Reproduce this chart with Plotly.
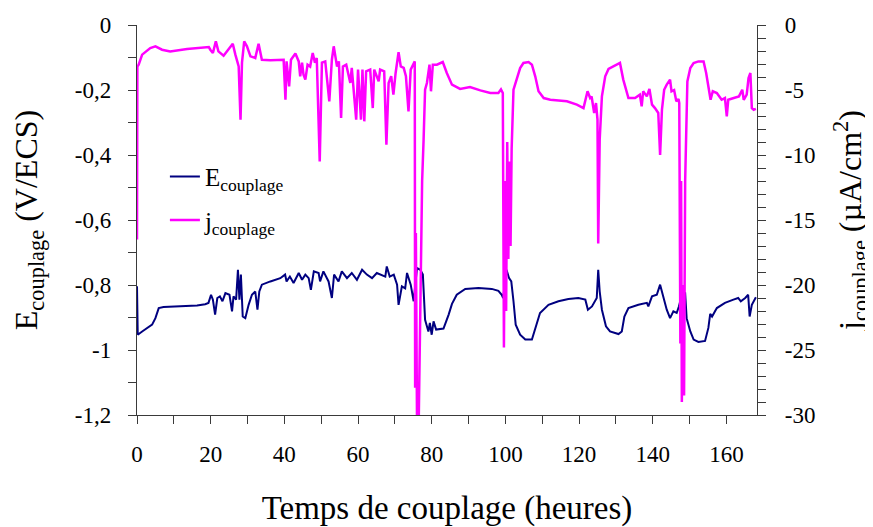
import plotly.graph_objects as go

# ---------------- data ----------------
# Coupling potential E (V/ECS) versus coupling time (hours)
t_E = [0, 0.2, 1.4, 2.7, 4.1, 5.0, 5.9, 7.2, 10.9, 16.3,
       18.5, 19.4, 20.1, 20.6, 21.2, 21.8, 22.5, 23.2, 24.0, 25.1,
       25.8, 26.2, 26.9, 27.4, 27.8, 28.2, 28.7, 29.4, 30.3, 31.2,
       32.1, 32.7, 33.2, 33.9, 36.2, 38.9, 40.2, 40.6, 41.5, 42.5,
       43.9, 44.8, 45.7, 46.6, 47.2, 48.0, 49.3, 49.7, 50.6, 52.0,
       52.9, 53.5, 54.7, 55.6, 57.0, 58.3, 59.7, 61.1, 62.4, 63.8,
       65.1, 67.4, 67.8, 68.6, 69.7, 70.6, 71.0, 71.9, 72.8, 73.3,
       74.3, 75.1, 76.0, 76.9, 77.6, 78.2, 79.1, 79.5, 80.0, 80.5,
       81.2, 83.2, 84.6, 85.5, 86.8, 89.1, 92.7, 96.3, 98.1, 99.0,
       99.4, 100.3, 101.0, 101.6, 102.2, 102.8, 104.0, 105.4, 107.2, 108.1,
       109.4, 111.7, 114.4, 117.1, 119.8, 121.7, 122.4, 123.5, 124.1, 124.8,
       125.2, 125.6, 126.2, 127.3, 128.4, 130.7, 131.6, 132.3, 133.4, 136.1,
       138.4, 138.8, 139.8, 141.1, 142.0, 142.6, 143.8, 144.7, 145.6, 146.5,
       147.1, 148.0, 148.8, 149.2, 150.2, 151.1, 152.4, 154.2, 155.1, 155.6,
       156.1, 157.4, 159.6, 161.9, 163.2, 163.9, 165.1, 165.9, 166.3, 166.9,
       168.0]
E_couplage = [-0.804, -0.953, -0.943, -0.932, -0.922, -0.902, -0.871, -0.868, -0.866, -0.863,
              -0.859, -0.855, -0.830, -0.845, -0.891, -0.840, -0.835, -0.850, -0.825, -0.830,
              -0.881, -0.835, -0.845, -0.753, -0.845, -0.768, -0.897, -0.902, -0.861, -0.830,
              -0.820, -0.876, -0.820, -0.799, -0.789, -0.779, -0.768, -0.789, -0.774, -0.794,
              -0.763, -0.784, -0.768, -0.779, -0.815, -0.758, -0.763, -0.789, -0.758, -0.789,
              -0.840, -0.768, -0.789, -0.758, -0.779, -0.763, -0.784, -0.753, -0.768, -0.779,
              -0.763, -0.774, -0.743, -0.774, -0.768, -0.799, -0.861, -0.804, -0.810, -0.763,
              -0.799, -0.850, -0.748, -0.753, -0.768, -0.907, -0.943, -0.917, -0.953, -0.912,
              -0.937, -0.934, -0.891, -0.858, -0.830, -0.812, -0.809, -0.812, -0.818, -0.830,
              -0.840, -0.753, -0.779, -0.789, -0.850, -0.922, -0.953, -0.968, -0.968, -0.937,
              -0.886, -0.861, -0.850, -0.843, -0.840, -0.845, -0.876, -0.866, -0.855, -0.840,
              -0.753, -0.820, -0.876, -0.927, -0.943, -0.951, -0.943, -0.897, -0.871, -0.861,
              -0.855, -0.866, -0.835, -0.830, -0.799, -0.825, -0.876, -0.902, -0.881, -0.886,
              -0.866, -0.825, -0.825, -0.902, -0.943, -0.968, -0.975, -0.972, -0.932, -0.889,
              -0.897, -0.871, -0.855, -0.845, -0.840, -0.850, -0.840, -0.830, -0.897, -0.861,
              -0.838]

# Coupling current density j (uA/cm2) versus coupling time (hours)
t_j = [0, 0.1, 0.45, 1.4, 3.6, 5.0, 6.8, 9.0, 13.6, 19.5,
       19.9, 20.6, 21.4, 22.1, 23.5, 26.0, 26.7, 27.6, 28.1, 28.5,
       29.1, 29.85, 30.8, 32.1, 33.0, 33.9, 36.2, 39.8, 40.3, 40.6,
       41.3, 41.8, 43.0, 43.9, 44.3, 44.8, 45.2, 45.7, 46.3, 47.0,
       47.7, 48.3, 48.8, 49.6, 50.2, 51.1, 52.2, 52.9, 53.4, 54.3,
       54.8, 55.4, 55.9, 56.8, 57.9, 58.3, 59.5, 60.0, 60.8, 61.2,
       61.7, 62.2, 63.3, 64.0, 64.4, 65.6, 66.0, 67.1, 67.7, 68.3,
       69.0, 69.6, 70.2, 71.0, 71.6, 72.4, 73.0, 73.7, 74.3, 75.1,
       75.4, 75.5, 75.7, 76.0, 76.5, 77.0, 77.4, 77.8, 78.2, 78.7,
       79.4, 79.8, 80.3, 81.4, 83.0, 84.1, 85.5, 87.7, 90.4, 93.2,
       95.9, 98.1, 98.8, 99.3, 99.6, 99.9, 100.2, 100.5, 100.8, 101.1,
       101.4, 101.7, 102.2, 102.6, 104.0, 104.9, 106.3, 107.2, 108.1, 109.0,
       110.4, 112.2, 114.0, 116.7, 119.4, 121.2, 122.3, 123.0, 123.4, 124.1,
       124.6, 125.0, 125.2, 125.6, 126.2, 127.1, 128.0, 129.4, 131.1, 132.0,
       133.4, 135.2, 136.5, 137.0, 137.4, 138.4, 139.1, 139.8, 140.6, 141.5,
       142.0, 142.5, 143.1, 143.8, 144.7, 145.1, 145.8, 146.4, 147.0, 147.2,
       147.5, 147.7, 147.9, 148.2, 148.5, 148.8, 149.1, 149.4, 150.2, 151.1,
       152.4, 153.8, 154.5, 155.1, 155.7, 156.3, 157.4, 158.7, 159.6, 160.1,
       160.5, 162.0, 163.4, 164.3, 164.7, 165.5, 166.0, 166.5, 166.9, 167.4,
       168.0]
j_couplage = [-16.5, -3.2, -3.05, -2.28, -1.77, -1.64, -1.90, -2.03, -1.85, -1.70,
              -1.90, -2.15, -1.26, -2.03, -2.36, -1.44, -2.28, -3.18, -7.28, -2.90,
              -1.26, -1.64, -2.41, -2.54, -1.44, -2.67, -2.72, -2.67, -5.75, -2.80,
              -4.72, -2.67, -2.20, -2.80, -3.95, -2.90, -3.82, -4.20, -3.05, -3.20,
              -2.15, -2.90, -2.54, -10.5, -2.90, -2.80, -5.87, -2.67, -1.64, -3.20,
              -2.80, -7.15, -3.20, -3.05, -4.46, -3.30, -7.28, -3.43, -7.28, -3.43,
              -7.41, -3.56, -3.43, -6.39, -3.43, -4.34, -3.43, -3.56, -9.2, -4.46,
              -3.94, -5.36, -3.69, -2.10, -3.18, -3.30, -3.94, -6.64, -3.43, -2.92,
              -2.80, -27.9, -16.0, -30.0, -30.0, -20.0, -12.0, -8.8, -4.98, -4.46,
              -3.05, -5.10, -3.05, -3.05, -2.85, -3.69, -4.59, -4.92, -4.77, -5.03,
              -5.23, -5.23, -4.95, -5.23, -24.8, -12.0, -22.0, -9.0, -18.0, -10.5,
              -17.0, -9.5, -4.98, -4.60, -3.31, -2.92, -2.85, -3.05, -3.95, -5.10,
              -5.62, -5.75, -5.80, -5.87, -6.13, -6.39, -5.10, -5.62, -5.50, -6.77,
              -6.00, -7.28, -16.8, -8.8, -5.49, -3.95, -3.38, -3.18, -2.92, -4.20,
              -5.62, -5.62, -5.36, -6.26, -5.10, -5.49, -4.92, -6.13, -6.39, -6.77,
              -10.0, -6.50, -4.98, -4.59, -4.20, -5.10, -5.00, -5.87, -5.70, -6.00,
              -24.5, -12.0, -29.0, -20.0, -28.5, -12.0, -6.50, -4.34, -3.31, -2.92,
              -2.80, -2.80, -3.69, -4.72, -5.75, -5.10, -5.23, -5.75, -5.62, -7.03,
              -5.75, -5.62, -5.49, -4.98, -5.75, -5.36, -4.08, -3.69, -6.39, -6.52,
              -6.45]

assert len(t_E) == len(E_couplage)
assert len(t_j) == len(j_couplage)

# Tick values and labels
x_ticks = [0, 10, 20, 30, 40, 50, 60, 70, 80, 90, 100, 110, 120, 130, 140, 150, 160]
x_labels = ["0", "", "20", "", "40", "", "60", "", "80", "", "100", "", "120", "", "140", "", "160"]
E_ticks = [0, -0.1, -0.2, -0.3, -0.4, -0.5, -0.6, -0.7, -0.8, -0.9, -1.0, -1.1, -1.2]
E_labels = ["0", "", "-0,2", "", "-0,4", "", "-0,6", "", "-0,8", "", "-1", "", "-1,2"]
j_ticks = [-k for k in range(0, 31)]
j_labels = [("-%d" % k if k else "0") if k % 5 == 0 else "" for k in range(0, 31)]

FONT = "Liberation Serif, Times New Roman, serif"
AXC = "#3a3a3a"

fig = go.Figure()
fig.add_trace(go.Scatter(x=t_E, y=E_couplage, mode="lines",
                         name="E<sub>couplage</sub>", legendgroup="E",
                         line=dict(color="#000080", width=2)))
fig.add_trace(go.Scatter(x=t_j, y=j_couplage, mode="lines", yaxis="y2",
                         name="j<sub>couplage</sub>", legendgroup="j",
                         line=dict(color="#FF00FF", width=2.5)))

axis_common = dict(showgrid=False, zeroline=False, showline=True, linecolor=AXC,
                   linewidth=1.3, ticks="outside", ticklen=8, tickcolor=AXC,
                   tickwidth=1.3, tickfont=dict(family=FONT, size=23, color="black"),
                   automargin=False, tickmode="array")

# The page body has an 8px default margin, so the figure is sized to fit the window.
fig.update_layout(
    width=865, height=519,
    margin=dict(l=129, r=116, t=17, b=112),
    paper_bgcolor="white", plot_bgcolor="white",
    font=dict(family=FONT, color="black"),
    showlegend=True,
    legend=dict(x=0.045, y=0.67, xanchor="left", yanchor="top",
                bgcolor="rgba(0,0,0,0)", font=dict(family=FONT, size=25, color="black"),
                traceorder="grouped", tracegroupgap=8, itemwidth=30),
    xaxis=dict(range=[0, 168.3], tickvals=x_ticks, ticktext=x_labels,
               ticklabelstandoff=10,
               title=dict(text="Temps de couplage (heures)",
                          font=dict(family=FONT, size=33, color="black"), standoff=37),
               **axis_common),
    yaxis=dict(range=[-1.2, 0], tickvals=E_ticks, ticktext=E_labels,
               ticklabelstandoff=12,
               title=dict(text="E<sub>couplage</sub> (V/ECS)",
                          font=dict(family=FONT, size=32, color="black"), standoff=30),
               **axis_common),
    yaxis2=dict(range=[-30, 0], overlaying="y", side="right",
                tickvals=j_ticks, ticktext=j_labels, ticklabelstandoff=14,
                title=dict(text="j<sub>couplage</sub> (µA/cm<sup>2</sup>)",
                           font=dict(family=FONT, size=32, color="black"), standoff=44),
                **axis_common),
)

fig.write_html("out.html")
